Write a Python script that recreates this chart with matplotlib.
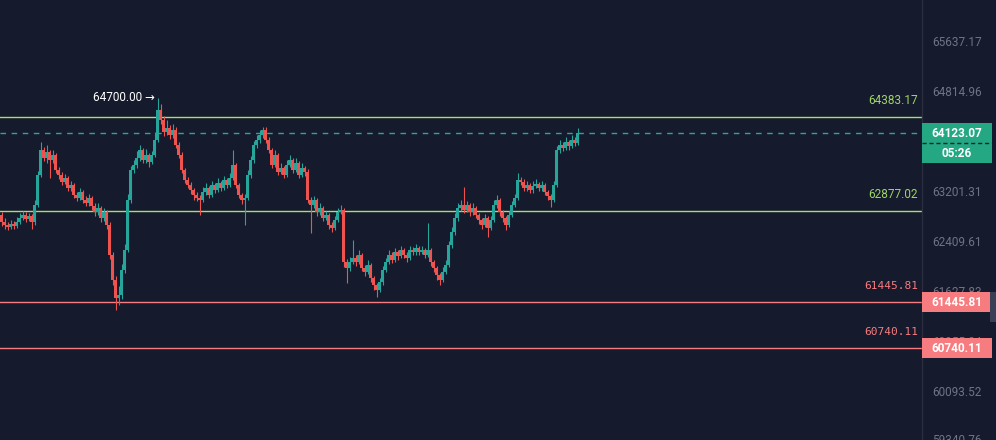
import numpy as np
import matplotlib
matplotlib.use('Agg')
import matplotlib.pyplot as plt
from matplotlib.patches import Rectangle
from matplotlib.ticker import NullLocator
import matplotlib.transforms as mtransforms

# candle data (prices)
first_open = 62817
closes = [
    62706, 62659, 62627, 62675, 62643, 62706, 62770, 62817, 62754, 62801,
    62706, 62975, 63452, 63853, 63725, 63821, 63693, 63773, 63532, 63452,
    63341, 63404, 63245, 63292, 63133, 63086, 63181, 63054, 63007, 63086,
    62959, 62864, 62927, 62770, 62864, 62659, 62187, 61795, 61515, 61562,
    61952, 62265, 63054, 63532, 63612, 63725, 63853, 63693, 63773, 63661,
    63773, 64014, 64502, 64340, 64145, 64211, 64096, 64177, 63934, 63773,
    63532, 63373, 63292, 63212, 63133, 63086, 63054, 63181, 63245, 63133,
    63292, 63212, 63325, 63245, 63373, 63292, 63404, 63612, 63292, 63133,
    63054, 63086, 63452, 63693, 63934, 64014, 64096, 64177, 64014, 63853,
    63612, 63773, 63500, 63564, 63452, 63612, 63693, 63532, 63645, 63452,
    63564, 63500, 63054, 62975, 63054, 62864, 62927, 62770, 62817, 62659,
    62611, 62738, 62864, 62896, 62077, 61983, 62077, 62140, 62077, 62187,
    61983, 61921, 62030, 61827, 61717, 61639, 61764, 61952, 62077, 62187,
    62108, 62234, 62171, 62265, 62187, 62140, 62265, 62234, 62296, 62234,
    62265, 62187, 62265, 62077, 61983, 61874, 61795, 61921, 62030, 62343,
    62548, 62770, 62927, 62975, 62896, 62975, 62864, 62927, 62817, 62738,
    62659, 62770, 62611, 62738, 62975, 63054, 62864, 62770, 62659, 62817,
    62975, 63086, 63373, 63341, 63245, 63292, 63212, 63277, 63309, 63245,
    63292, 63181, 63117, 63054, 63292, 63853, 63934, 63886, 63983, 63918,
    64014, 63966, 64123.07]
highs = [
    62870, 62760, 62700, 62740, 62720, 62780, 62840, 62880, 62860, 62850,
    62830, 63050, 63520, 63983, 63900, 63930, 63860, 63850, 63800, 63580,
    63500, 63470, 63440, 63350, 63330, 63180, 63240, 63210, 63110, 63150,
    63120, 63000, 63000, 62960, 62930, 62900, 62700, 62230, 61850, 61700,
    62050, 62350, 63150, 63600, 63700, 63830, 63930, 63880, 63870, 63800,
    63840, 64150, 64700, 64600, 64400, 64330, 64260, 64280, 64220, 63980,
    63820, 63570, 63420, 63340, 63250, 63180, 63130, 63260, 63330, 63280,
    63360, 63330, 63400, 63360, 63440, 63410, 63480, 63850, 63650, 63330,
    63170, 63150, 63530, 63760, 64000, 64100, 64180, 64227, 64230, 64060,
    63890, 63850, 63800, 63640, 63600, 63690, 63770, 63720, 63720, 63680,
    63650, 63600, 63540, 63100, 63120, 63090, 63000, 62960, 62880, 62850,
    62700, 62800, 62930, 62975, 62920, 62120, 62150, 62421, 62190, 62260,
    62220, 62030, 62100, 62060, 61860, 61750, 61830, 62020, 62140, 62260,
    62230, 62300, 62270, 62330, 62300, 62230, 62330, 62310, 62360, 62330,
    62330, 62300, 62690, 62300, 62110, 62010, 61900, 61990, 62100, 62410,
    62620, 62850, 63010, 63060, 63261, 63040, 63010, 63000, 62960, 62850,
    62770, 62830, 62800, 62800, 63050, 63133, 63090, 62900, 62800, 62880,
    63040, 63150, 63484, 63420, 63380, 63360, 63330, 63350, 63380, 63340,
    63360, 63320, 63220, 63150, 63360, 63920, 64010, 63980, 64060, 64020,
    64090, 64060, 64211]
lows = [
    62640, 62600, 62580, 62590, 62600, 62610, 62680, 62740, 62700, 62720,
    62600, 62660, 62940, 63420, 63680, 63650, 63400, 63640, 63480, 63380,
    63290, 63300, 63190, 63200, 63080, 63030, 63050, 63000, 62950, 62960,
    62900, 62800, 62820, 62700, 62720, 62600, 62120, 61720, 61330, 61400,
    61500, 61900, 62230, 63000, 63480, 63560, 63680, 63640, 63640, 63580,
    63620, 63740, 63980, 64280, 64080, 64100, 64030, 64050, 63880, 63720,
    63480, 63320, 63240, 63150, 63060, 63030, 62817, 63020, 63140, 63080,
    63100, 63160, 63180, 63190, 63210, 63240, 63260, 63370, 63240, 63080,
    62990, 62659, 63050, 63400, 63650, 63880, 63960, 64050, 63960, 63800,
    63560, 63580, 63450, 63460, 63400, 63420, 63580, 63480, 63500, 63400,
    63420, 63440, 63000, 62532, 62930, 62800, 62820, 62720, 62730, 62600,
    62540, 62580, 62700, 62830, 62000, 61749, 61940, 62040, 62020, 62040,
    61930, 61860, 61880, 61770, 61640, 61531, 61600, 61720, 61920, 62040,
    62060, 62080, 62110, 62130, 62130, 62080, 62100, 62180, 62190, 62180,
    62200, 62130, 62150, 62020, 61920, 61800, 61720, 61760, 61890, 62000,
    62300, 62500, 62720, 62880, 62850, 62860, 62800, 62820, 62760, 62680,
    62590, 62620, 62469, 62580, 62700, 62930, 62800, 62700, 62580, 62620,
    62780, 62940, 63050, 63290, 63190, 63200, 63160, 63170, 63240, 63190,
    63200, 63130, 63060, 62943, 63020, 63260, 63800, 63830, 63850, 63860,
    63880, 63910, 63930]

axis_ticks = [65637.17, 64814.96, 63201.31, 62409.61, 61627.83, 60855.84, 60093.52]
axis_labels = ['65637.17', '64814.96', '63201.31', '62409.61', '61627.83', '60855.84', '60093.52']
bottom_tick = 59340.76

green_levels = [64383.17, 62877.02]
red_levels = [61445.81, 60740.11]
last_price = 64123.07
countdown = '05:26'
high_mark = 64700.00
high_index = 52

BG = '#151a2c'
UP = '#26a69a'
DOWN = '#ef5350'
LEVEL_GREEN = '#a7de6e'
LEVEL_GREEN_TXT = '#9fd468'
LEVEL_RED = '#f77c80'
BOX_GREEN = '#24a783'
FONT = ['Roboto', 'DejaVu Sans']

W, H = 996, 440
AX_W = 922
y_min, y_max = 59351, 66314

fig = plt.figure(figsize=(W / 100, H / 100), dpi=100)
fig.patch.set_facecolor(BG)
ax = fig.add_axes([0, 0, AX_W / W, 1])
ax.set_facecolor(BG)
ax.set_yscale('log')
ax.set_ylim(y_min, y_max)
ax.set_xlim(-0.5, AX_W / 3 - 0.5)

for name, sp in ax.spines.items():
    sp.set_visible(name == 'right')
ax.spines['right'].set_color('#2a2e40')
ax.spines['right'].set_linewidth(1)
ax.xaxis.set_visible(False)
ax.yaxis.tick_right()
ax.set_yticks(axis_ticks, labels=axis_labels)
ax.yaxis.set_minor_locator(NullLocator())
ax.tick_params(axis='y', length=0, pad=7.5, labelsize=8.5, labelcolor='#6f7386')
for lbl in ax.get_yticklabels():
    lbl.set_fontfamily(FONT)

# candles
c = np.array(closes, dtype=float)
o = np.array([first_open] + closes[:-1], dtype=float)
hi = np.array(highs, dtype=float)
lo = np.array(lows, dtype=float)
x = np.arange(len(c))
col = np.where(c >= o, UP, DOWN)
ax.vlines(x, lo, hi, colors=col, linewidth=0.8, zorder=3)
ax.bar(x, np.maximum(np.abs(c - o), 3), bottom=np.minimum(o, c), width=0.7,
       color=col, linewidth=0, zorder=4)

# horizontal levels
for p in green_levels:
    ax.axhline(p, color=LEVEL_GREEN, lw=1, zorder=2)
    ax.annotate(f'{p:.2f}', xy=(1, p), xycoords=('axes fraction', 'data'),
                xytext=(-3, 12), textcoords='offset points', ha='right', va='center',
                color=LEVEL_GREEN_TXT, fontsize=8.5, family=FONT)
for p in red_levels:
    ax.axhline(p, color=LEVEL_RED, lw=1, zorder=2)
    ax.annotate(f'{p:.2f}', xy=(1, p), xycoords=('axes fraction', 'data'),
                xytext=(-3, 12), textcoords='offset points', ha='right', va='center',
                color=LEVEL_RED, fontsize=8, family='DejaVu Sans Mono')

ax.axhline(last_price, color='#2aa79b', lw=1, ls=(0, (4, 4)), zorder=2)

ax.annotate(f'{high_mark:.2f} \u2192', xy=(high_index, high_mark),
            xytext=(-2, 0), textcoords='offset points', ha='right', va='center',
            color='white', fontsize=8.5, family=FONT)

# price-scale boxes
blend = mtransforms.blended_transform_factory(ax.transAxes, ax.transData)
hf = (y_max / y_min) ** (10 / H)
bx0, bx1 = 1.0, 992 / AX_W
bxc = (922 + 35) / AX_W


def price_box(p, text, color):
    ax.add_patch(Rectangle((bx0, p / hf), bx1 - bx0, p * hf - p / hf, transform=blend,
                           facecolor=color, edgecolor='none', clip_on=False, zorder=10))
    ax.text(bxc, p, text, transform=blend, ha='center', va='center', color='white',
            fontsize=8.5, fontweight='bold', family=FONT, clip_on=False, zorder=11)


price_box(last_price, f'{last_price:.2f}', BOX_GREEN)
price_box(last_price / hf ** 2, countdown, BOX_GREEN)
# dark dashed seam between the price and countdown boxes
ax.plot([bx0, bx1], [last_price / hf] * 2, transform=blend, color='#1b2030',
        lw=1, ls=(0, (3, 2)), clip_on=False, zorder=12)
for p in red_levels:
    price_box(p, f'{p:.2f}', LEVEL_RED)

ax.annotate(f'{bottom_tick:.2f}', xy=(1, bottom_tick), xycoords=blend,
            xytext=(7.5, 0), textcoords='offset points', ha='left', va='center',
            color='#6f7386', fontsize=8.5, family=FONT, annotation_clip=False)

# small tab at the right edge
fig.patches.append(Rectangle((990 / W, (H - 322) / H), 6 / W, 30 / H,
                             transform=fig.transFigure, facecolor='#3a3f55',
                             edgecolor='none'))

fig.savefig('out.png', dpi=100, facecolor=BG)
